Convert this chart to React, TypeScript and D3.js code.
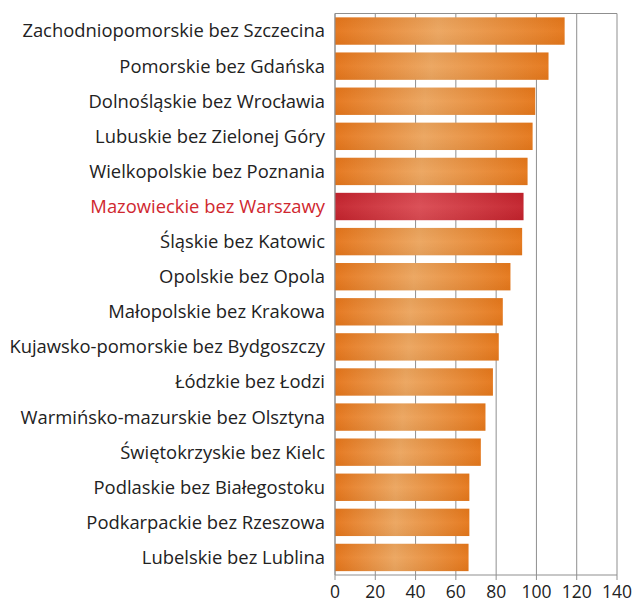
import React from "react";
import * as d3 from "d3";

const categories: string[] = [
  "Zachodniopomorskie bez Szczecina",
  "Pomorskie bez Gdańska",
  "Dolnośląskie bez Wrocławia",
  "Lubuskie bez Zielonej Góry",
  "Wielkopolskie bez Poznania",
  "Mazowieckie bez Warszawy",
  "Śląskie bez Katowic",
  "Opolskie bez Opola",
  "Małopolskie bez Krakowa",
  "Kujawsko-pomorskie bez Bydgoszczy",
  "Łódzkie bez Łodzi",
  "Warmińsko-mazurskie bez Olsztyna",
  "Świętokrzyskie bez Kielc",
  "Podlaskie bez Białegostoku",
  "Podkarpackie bez Rzeszowa",
  "Lubelskie bez Lublina",
];
const values: number[] = [114, 106, 99.4, 98.1, 95.6, 93.6, 92.9, 87.1, 83.3, 81.3, 78.4, 74.7, 72.4, 66.7, 66.7, 66.3];
const highlighted: string[] = ["Mazowieckie bez Warszawy"];
const xTicks: number[] = [0, 20, 40, 60, 80, 100, 120, 140];

const W = 637;
const H = 601;
const left = 335;
const right = 617;
const top = 13.5;
const bottom = 575;

export default function App() {
  const x = d3.scaleLinear().domain([0, 140]).range([left, right]);
  const y = d3
    .scaleBand<string>()
    .domain(categories)
    .range([top, bottom])
    .paddingInner(0.22)
    .paddingOuter(0.11);
  const font = "'Open Sans', 'Liberation Sans', sans-serif";
  return (
    <svg
      width={W}
      height={H}
      style={{ position: "absolute", left: 0, top: 0, background: "#fff" }}
    >
      <defs>
        <linearGradient id="gOrange" x1="0" x2="1" y1="0" y2="0">
          <stop offset="0%" stopColor="#E5751A" />
          <stop offset="45%" stopColor="#ECA55E" />
          <stop offset="100%" stopColor="#E5771A" />
        </linearGradient>
        <linearGradient id="gRed" x1="0" x2="1" y1="0" y2="0">
          <stop offset="0%" stopColor="#C4232D" />
          <stop offset="45%" stopColor="#DA4A52" />
          <stop offset="100%" stopColor="#C3222C" />
        </linearGradient>
        <linearGradient id="gShade" x1="0" x2="0" y1="0" y2="1">
          <stop offset="0%" stopColor="#000" stopOpacity="0.03" />
          <stop offset="50%" stopColor="#fff" stopOpacity="0.04" />
          <stop offset="100%" stopColor="#000" stopOpacity="0.04" />
        </linearGradient>
      </defs>
      {/* grid */}
      {xTicks.map((t) => (
        <line
          key={"g" + t}
          x1={x(t)}
          x2={x(t)}
          y1={top}
          y2={bottom}
          stroke="#8f8f8f"
          strokeWidth={1}
        />
      ))}
      <line x1={left} x2={right} y1={top} y2={top} stroke="#8f8f8f" strokeWidth={1} />
      {/* bars */}
      {categories.map((c, i) => {
        const hi = highlighted.includes(c);
        const by = y(c)!;
        const bw = x(values[i]) - x(0);
        return (
          <g key={c}>
            <rect
              x={x(0)}
              y={by}
              width={bw}
              height={y.bandwidth()}
              fill={hi ? "url(#gRed)" : "url(#gOrange)"}
            />
            <rect x={x(0)} y={by} width={bw} height={y.bandwidth()} fill="url(#gShade)" />
            <text
              x={325}
              y={by + y.bandwidth() / 2}
              dy="0.35em"
              textAnchor="end"
              fontFamily={font}
              fontSize={18.4}
              fill={hi ? "#D0282F" : "#222"}
            >
              {c}
            </text>
          </g>
        );
      })}
      {/* axes */}
      <line x1={left} x2={left} y1={top} y2={bottom} stroke="#8f8f8f" strokeWidth={1} />
      <line x1={left} x2={right} y1={bottom} y2={bottom} stroke="#8f8f8f" strokeWidth={1} />
      {xTicks.map((t) => (
        <g key={"t" + t}>
          <line x1={x(t)} x2={x(t)} y1={bottom} y2={bottom + 5} stroke="#8f8f8f" />
          <text
            x={x(t)}
            y={597.5}
            textAnchor="middle"
            fontFamily={font}
            fontSize={17.5}
            fill="#222"
          >
            {t}
          </text>
        </g>
      ))}
    </svg>
  );
}
